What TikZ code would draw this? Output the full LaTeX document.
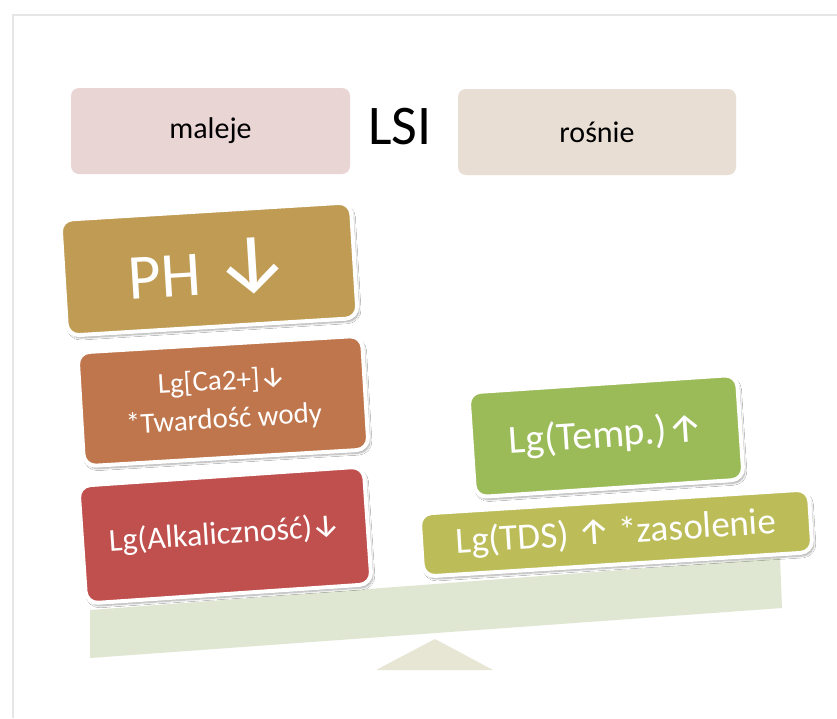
\documentclass[tikz,border=0pt]{standalone}
\usepackage{fontspec}
\setmainfont{Carlito}
\newfontfamily\arrowfont{Fira Sans}
\usetikzlibrary{shadows.blur}
\definecolor{framec}{RGB}{230,230,230}
\definecolor{malejec}{RGB}{234,213,213}
\definecolor{rosniec}{RGB}{232,222,212}
\definecolor{phc}{RGB}{191,155,83}
\definecolor{cac}{RGB}{192,118,77}
\definecolor{alkc}{RGB}{192,80,77}
\definecolor{tempc}{RGB}{155,187,89}
\definecolor{tdsc}{RGB}{188,189,89}
\definecolor{beamc}{RGB}{223,231,210}
\definecolor{triac}{RGB}{231,230,212}
\newcommand\arrdn{{\arrowfont ↓}}
\newcommand\arrup{{\arrowfont ↑}}
\tikzset{
  tagbox/.style={rounded corners=8pt, inner sep=0pt, align=center, text=black,
    font=\fontsize{30}{36}\selectfont},
  block/.style={rounded corners=12pt, draw=white, line width=4pt, text=white,
    align=center, inner sep=0pt,
    blur shadow={shadow xshift=2pt, shadow yshift=-3pt, shadow blur steps=6, shadow opacity=35}},
}
\begin{document}
\begin{tikzpicture}[x=1pt,y=-1pt]
\useasboundingbox (0,0) rectangle (837,718);
\fill[white] (0,0) rectangle (837,718);
\draw[framec, line width=1.5pt] (13,718) -- (13,15) -- (837,15);

\node[tagbox, fill=malejec, minimum width=279pt, minimum height=86pt] (maleje) at (210.5,131) {maleje};
\node[font=\fontsize{56}{60}\selectfont, inner sep=0pt] (lsi) at (400,127) {LSI};
\node[tagbox, fill=rosniec, minimum width=278pt, minimum height=86pt] (rosnie) at (597,132) {rośnie};

\fill[beamc] (90,610) -- (780,558) -- (782,608) -- (90,658) -- cycle;
\fill[triac, rounded corners=1pt] (435,639) -- (493,670) -- (376,670) -- cycle;

\node[block, fill=alkc, minimum width=286pt, minimum height=118pt, rotate=3.9,
  font=\fontsize{32}{38}\selectfont] (alk) at (225,535) {Lg(Alkaliczność)\arrdn};
\node[block, fill=cac, minimum width=285pt, minimum height=114pt, rotate=3.4,
  font=\fontsize{29}{38}\selectfont] (ca) at (223,401) {Lg[Ca2+]\arrdn\\{*}Twardość wody};
\node[block, fill=phc, minimum width=291pt, minimum height=116pt, rotate=3.5,
  font=\fontsize{64}{70}\selectfont] (ph) at (209,269) {PH {\fontsize{84}{84}\selectfont\arrdn}};

\node[block, fill=tdsc, minimum width=390pt, minimum height=63pt, rotate=3.6,
  font=\fontsize{37}{44}\selectfont] (tds) at (616,533) {Lg(TDS) \arrup{} {*}zasolenie};
\node[block, fill=tempc, minimum width=269pt, minimum height=105pt, rotate=3.8,
  font=\fontsize{40}{48}\selectfont] (temp) at (606,436) {Lg(Temp.)\arrup};
\end{tikzpicture}
\end{document}
